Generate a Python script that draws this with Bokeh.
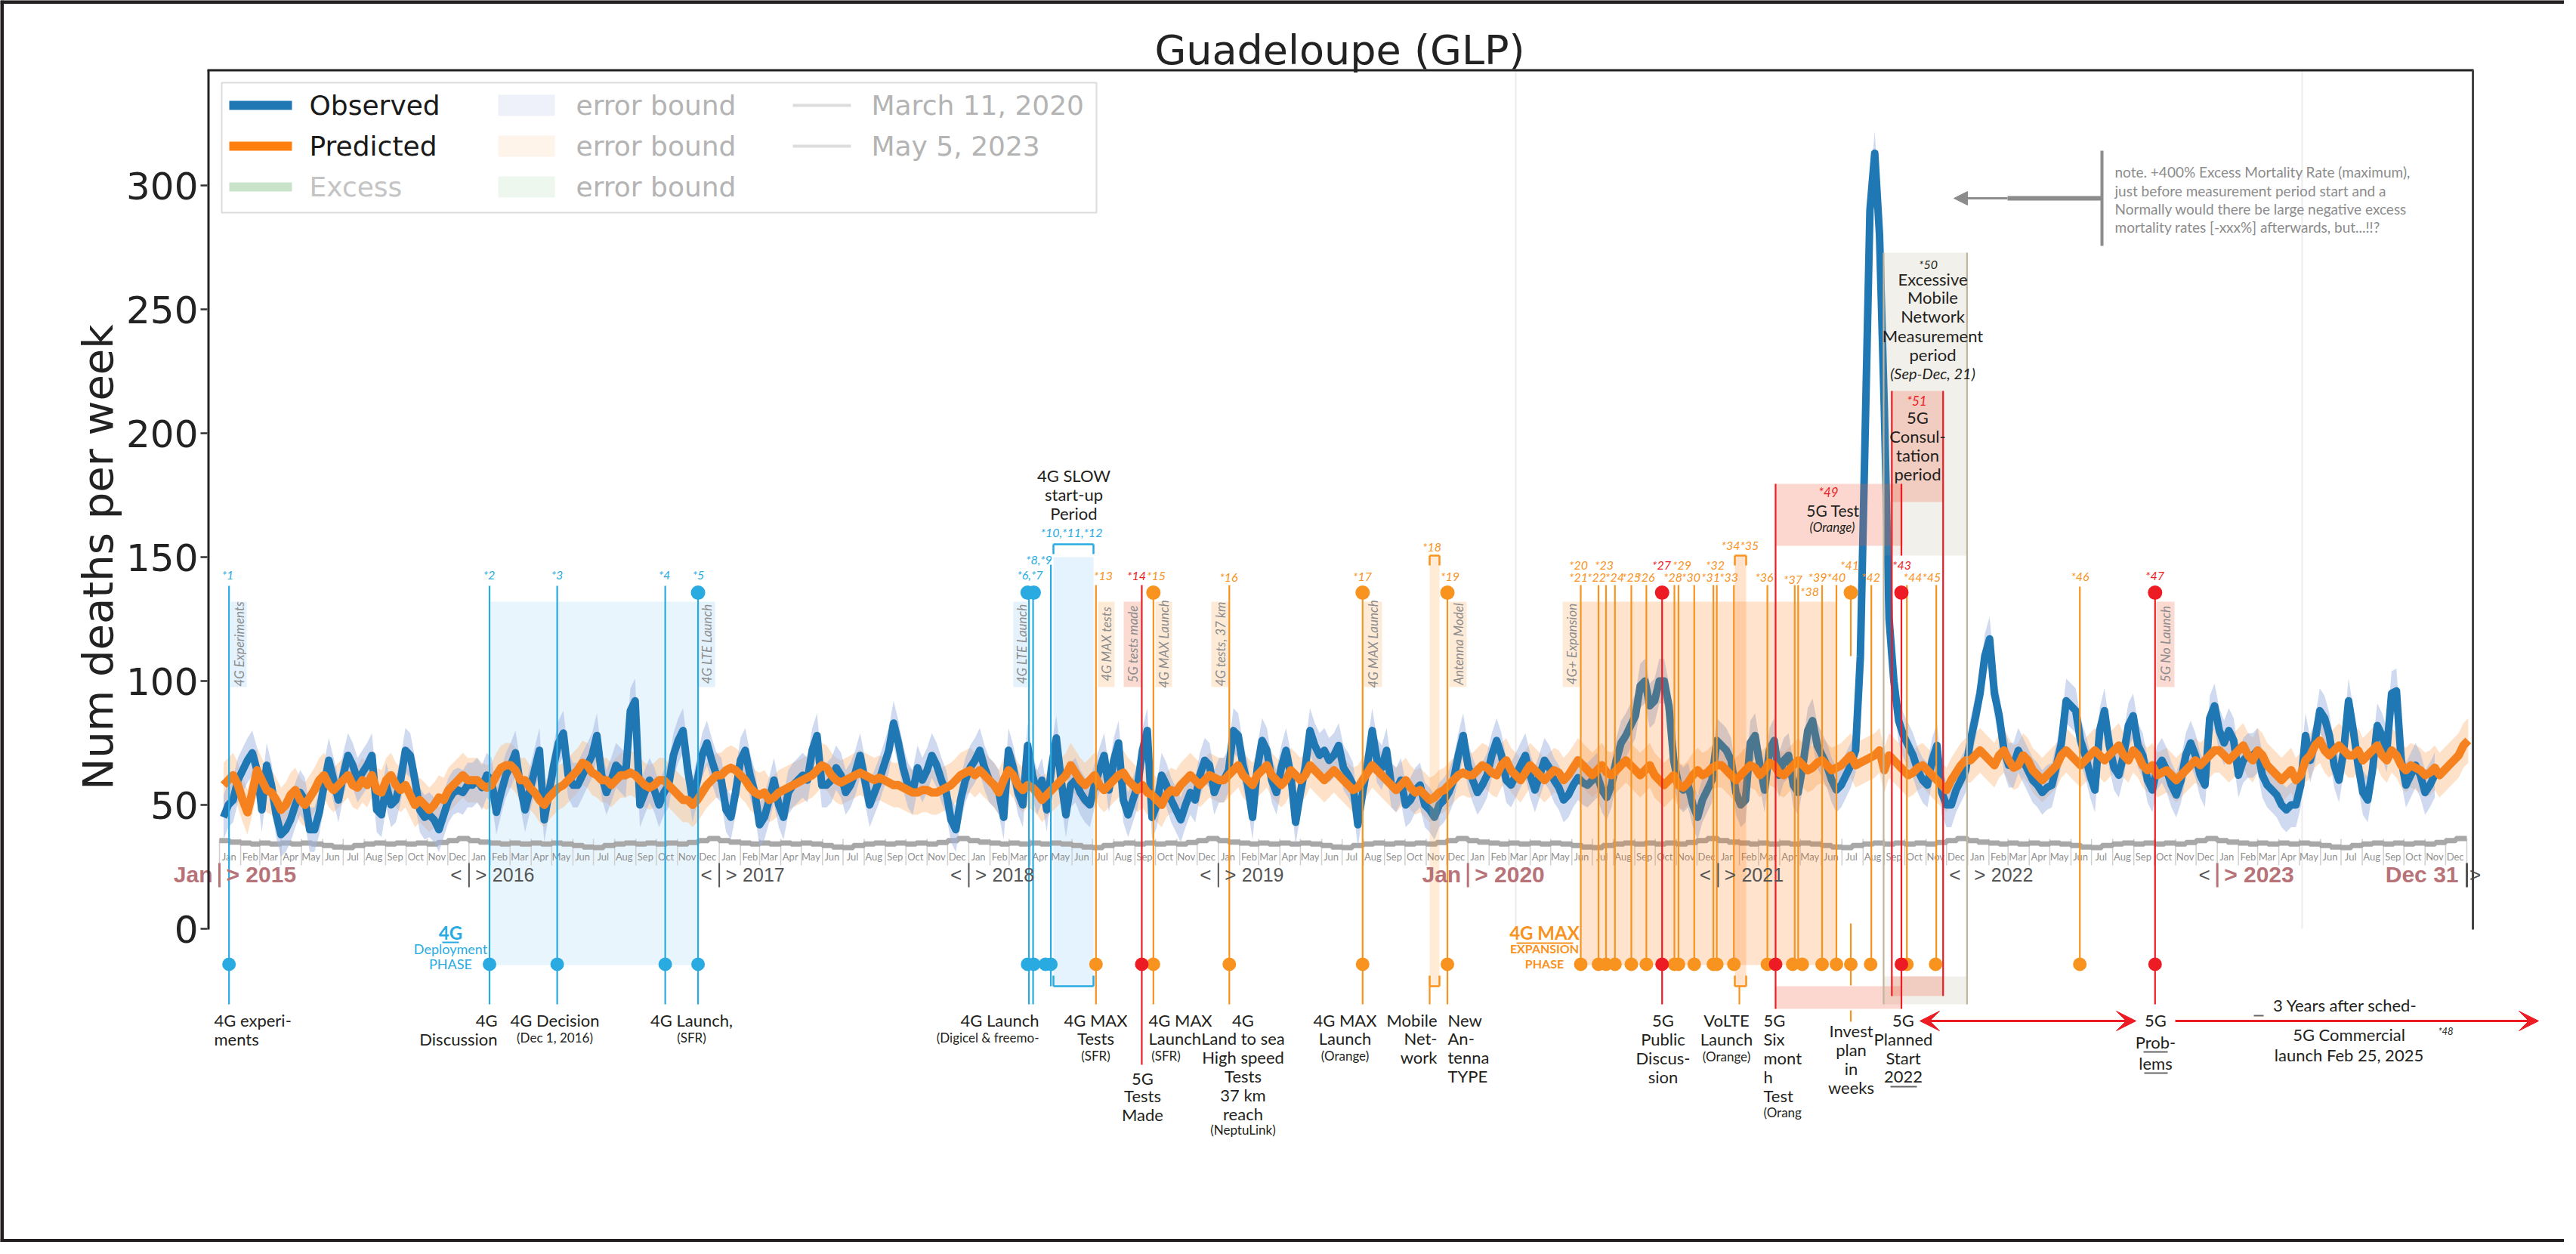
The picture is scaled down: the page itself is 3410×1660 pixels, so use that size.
import numpy as np
import pandas as pd
from math import pi
from bokeh.plotting import figure
from bokeh.models import Range1d, FixedTicker, Arrow, VeeHead, NormalHead
from bokeh.core.properties import value
from bokeh.embed import file_html
from bokeh.resources import INLINE

# ------------------------------------------------------------------ data
TITLE = "Guadeloupe (GLP)"
Y_LABEL = "Num deaths per week"
FIRST_WEEK = "2015-01-07"   # weekly points, one per week (mid-week)

obs_2015 = [45,50,52,60,64,68,71,64,48,66, 58,46,38,40,44,50,55,52,40,40, 47,58,68,60,52,62,70,66,60,63,
            66,70,48,46,58,50,52,60,72,70, 60,48,45,46,44,40,46,52,55,56, 55,58]
obs_2016 = [58,60,57,62,60,47,55,62,66,71, 58,48,56,64,72,44,55,66,75,79, 62,58,58,62,66,70,78,62,55,60,
            66,64,62,88,92,50,55,60,56,50, 55,58,70,76,80,64,52,60,70,75, 68,62]
obs_2017 = [60,48,45,55,68,72,62,55,42,45, 52,60,50,45,55,58,60,62,60,72, 78,58,58,60,65,62,55,58,63,70,
            60,50,55,60,66,72,83,75,65,58, 55,65,60,64,70,66,60,55,44,40, 52,60,65]
obs_2018 = [68,72,65,60,58,55,45,72,65,55, 50,74,62,55,60,48,65,77,60,46, 58,60,55,52,50,58,64,70,56,68,
            75,52,46,52,58,72,80,45,50,62, 58,52,48,44,50,55,52,62,68,66, 55,60]
obs_2019 = [60,64,80,78,66,58,45,65,76,72, 60,55,65,72,62,43,55,65,80,74, 70,72,68,70,74,65,62,58,42,55,
            66,80,68,65,72,58,56,60,50,52, 56,58,50,48,45,50,52,55,60,70, 78,66]
obs_2020 = [60,55,58,62,70,76,70,60,58,62, 66,70,62,56,62,68,65,60,57,52, 54,58,61,59,58,60,62,56,53,58,
            68,75,78,82,86,98,100,90,92,100, 100,90,68,58,56,58,50,45,52,56, 60,76]
obs_2021 = [74,72,68,55,50,52,75,78,66,56, 72,76,62,68,70,58,55,66,80,84, 74,70,66,60,56,58,62,66,72,110,
            200,290,313,280,210,125,100,84,78,74, 70,64,60,58,68,74,55,50,50,56, 60,64]
obs_2022 = [76,85,95,110,117,95,86,72,66,66, 72,68,64,60,58,55,57,58,66,75, 92,90,88,76,70,62,56,80,88,74,
            65,62,70,82,86,74,70,60,56,65, 68,64,58,54,60,70,75,70,62,58, 85,90]
obs_2023 = [80,75,80,76,62,68,70,70,72,62, 58,56,54,50,48,50,50,58,78,68, 76,88,85,78,66,60,72,92,80,66,
            55,52,64,82,78,72,95,96,68,58, 62,66,62,55,58,62]

pred_2015 = [58,60,62,58,52,47,55,64,60,56, 55,52,48,50,54,56,52,50,53,56, 60,62,58,56,58,60,62,58,57,60,
             58,62,56,55,60,62,58,56,58,54, 50,52,50,48,50,53,52,56,58,60, 62,60]
pred_2016 = [60,60,58,57,58,62,65,66,66,64, 60,60,57,55,52,50,53,55,57,58, 60,62,64,67,66,63,62,60,60,58,
             60,62,62,63,62,60,58,57,58,60, 60,58,56,54,52,52,50,52,55,58, 60,62]
pred_2017 = [62,64,65,64,62,60,57,55,54,55, 52,53,55,56,57,58,59,60,61,62, 64,66,65,62,60,59,60,61,62,63,
             62,61,60,61,60,59,58,58,57,56, 55,55,56,56,55,55,56,57,58,60, 62,63,64]
pred_2018 = [62,64,62,60,58,55,60,64,62,58, 56,58,57,55,52,54,56,58,60,62, 66,63,60,58,60,62,58,56,58,60,
             62,63,60,58,56,58,55,54,52,50, 54,56,55,58,60,62,60,58,60,62, 61,60]
pred_2019 = [60,62,64,66,62,60,58,62,64,66, 62,60,58,60,64,62,60,62,66,64, 62,60,62,64,62,60,58,56,57,60,
             63,66,64,62,60,58,56,58,60,57, 55,56,54,52,53,55,56,58,60,62, 63,62]
pred_2020 = [62,64,66,65,63,62,66,68,64,62, 60,63,66,64,62,60,62,64,63,60, 62,65,68,66,64,62,64,66,63,62,
             64,66,68,66,64,62,64,66,62,60, 58,60,62,58,57,59,62,64,62,63, 65,66]
pred_2021 = [66,64,62,60,62,64,66,65,62,64, 67,66,63,62,64,66,68,66,64,65, 67,68,66,64,65,66,68,70,66,67,
             68,69,70,72,64,70,68,66,64,62, 63,65,66,64,62,60,58,56,60,63, 66,68]
pred_2022 = [68,70,72,70,68,66,70,72,68,65, 66,70,68,64,62,60,62,64,66,70, 72,70,68,66,68,70,72,70,68,70,
             72,74,70,68,72,70,66,64,66,62, 63,64,62,60,62,64,66,68,66,68, 70,72]
pred_2023 = [72,70,68,70,72,74,70,68,72,70, 66,64,62,60,62,64,60,62,68,70, 74,76,72,70,72,74,72,70,70,72,
             68,70,72,74,70,68,72,70,66,64, 66,65,64,62,63,65,62,64,66,68, 70,74,76]

obs_band_half = 9.0      # half width of the observed error bound
pred_band_half = 9.0     # half width of the predicted error bound

y_ticks = [0, 50, 100, 150, 200, 250, 300]
month_names = ["Jan", "Feb", "Mar", "Apr", "May", "Jun", "Jul", "Aug", "Sep", "Oct", "Nov", "Dec"]
years = [2015, 2016, 2017, 2018, 2019, 2020, 2021, 2022, 2023]
# grey seasonal step line under the curves (half-month levels, one year)
baseline_profile = [35.6, 35.0, 34.6, 34.2, 34.6, 34.2, 34.6, 34.2, 34.6, 34.2, 33.6, 33.0,
                    32.8, 33.6, 34.2, 34.6, 34.2, 34.6, 34.2, 34.6, 34.2, 34.8, 35.6, 36.4]

legend_main = ["Observed", "Predicted", "Excess"]
legend_bound = ["error bound", "error bound", "error bound"]
legend_dates = ["March 11, 2020", "May 5, 2023"]
ref_dates = ["2020-03-11", "2023-05-05"]

# ------------------------------------------------------------ geometry
PX0, PXD = 298.0, 0.90508      # reference px of 2015-01-01, px per day
PY0, PYU = 1237.0, 3.28        # reference px of value 0, px per death
T0 = pd.Timestamp("2015-01-01")
DAY = 86400000.0


def xm(px):
    return (T0 + pd.Timedelta(days=(px - PX0) / PXD)).value / 1e6


def dm(d):
    return pd.Timestamp(d).value / 1e6


def yv(py):
    return (PY0 - py) / PYU


def dx(pxoff):
    return pxoff / PXD * DAY


BLUE, ORANGE = "#1f77b4", "#ff7f0e"
EB, EO, ER = "#29abe2", "#f7931e", "#ed1c24"
TAN = "#c2b59b"
TXT = "#231f20"
GTXT = "#8c8c8c"
PINK = "#b87379"

p = figure(width=3394, height=1644, output_backend="svg", toolbar_location=None, tools="",
           x_range=Range1d(xm(8), xm(3402)), y_range=Range1d(yv(1652), yv(8)),
           x_axis_location=None, min_border_left=0, min_border_right=0,
           min_border_top=0, min_border_bottom=0)
p.grid.visible = False
p.outline_line_color = None
p.background_fill_color = "white"
p.border_fill_color = "white"

ax = p.yaxis[0]
ax.fixed_location = xm(282)
ax.ticker = FixedTicker(ticks=y_ticks)
ax.axis_line_color = None
ax.major_tick_out = 9
ax.major_tick_in = 0
ax.major_tick_line_width = 2.5
ax.major_tick_line_color = "#333333"
ax.minor_tick_line_color = None
ax.major_label_text_font = "DejaVu Sans"
ax.major_label_text_font_size = "50px"
ax.major_label_text_color = "#222222"
ax.major_label_standoff = 3


def texts(items, size, color=TXT, align="center", style="normal", font="Lato", angle=0.0):
    xs = [xm(i[0]) for i in items]
    ys = [yv(i[1]) for i in items]
    ts = [i[2] for i in items]
    p.text(x=xs, y=ys, text=ts, text_font=value(font), text_font_size=value(size),
           text_color=color, text_align=align, text_baseline="middle",
           text_font_style=style, angle=angle)


def box(x0, x1, y0, y1, color, alpha=1.0):
    p.quad(left=[xm(x0)], right=[xm(x1)], top=[yv(y0)], bottom=[yv(y1)], fill_color=color,
           fill_alpha=alpha, line_color=None)


def seg(x0, y0, x1, y1, color, width=2.0):
    p.segment(x0=[xm(x0)], y0=[yv(y0)], x1=[xm(x1)], y1=[yv(y1)], line_color=color, line_width=width)


# title and y-axis label
texts([(1781, 74, TITLE)], "54px", "#222222", "center", font="DejaVu Sans")
texts([(137, 745, Y_LABEL)], "56px", "#222222", "center", font="DejaVu Sans", angle=pi / 2)

# ------------------------------------------------ background phase areas
box(657, 932, 804, 1285, "#e8f5fd")          # 4G deployment phase
box(1402, 1455, 745, 1313, "#e4f3fd")        # 4G slow start-up period

rot_boxes = [(313, 334, "4G Experiments", "#e3f2fc"), (932, 954, "4G LTE Launch", "#e3f2fc"),
             (1349, 1371, "4G LTE Launch", "#e3f2fc"), (1461, 1483, "4G MAX tests", "#fdebd8"),
             (1495, 1518, "5G tests made", "#fbdad2"), (1537, 1559, "4G MAX Launch", "#fdebd8"),
             (1611, 1634, "4G tests, 37 km", "#fdebd8"), (1813, 1837, "4G MAX Launch", "#fdebd8"),
             (1926, 1949, "Antenna Model", "#fdebd8"), (2076, 2099, "4G+ Expansion", "#fdebd8"),
             (2862, 2886, "5G No Launch", "#fbdad2")]
for b in rot_boxes:
    box(b[0], b[1], 804, 917, b[3])
texts([((b[0] + b[1]) / 2.0, 860, b[2]) for b in rot_boxes], "17px", GTXT, "center", "italic",
      angle=pi / 2)

# faint reference date lines (legend: March 11, 2020 / May 5, 2023)
p.segment(x0=[dm(d) for d in ref_dates], y0=[0, 0], x1=[dm(d) for d in ref_dates],
          y1=[yv(100), yv(100)], line_color="#ececec", line_width=2)

# ------------------------------------------------ month strip
mon_x, mon_t = [], []
for yr in years:
    for m in range(12):
        mon_x.append(dm(f"{yr}-{m + 1:02d}-15"))
        mon_t.append(month_names[m])
p.text(x=mon_x, y=[yv(1141)] * len(mon_x), text=mon_t, text_font=value("Lato"),
       text_font_size=value("13px"), text_color="#8f8f8f", text_align="center", text_baseline="middle")
sep_x = [dm(f"{yr}-{m + 1:02d}-01") for yr in years for m in range(12)] + [dm("2024-01-01")]
p.segment(x0=sep_x, y0=[yv(1118)] * len(sep_x), x1=sep_x, y1=[yv(1153)] * len(sep_x),
          line_color="#cfcfcf", line_width=1.5)
step_x = []
for yr in years:
    for m in range(12):
        step_x += [dm(f"{yr}-{m + 1:02d}-01"), dm(f"{yr}-{m + 1:02d}-16")]
step_x.append(dm("2024-01-01"))
step_y = list(np.tile(baseline_profile, len(years))) + [baseline_profile[-1]]
p.step(x=step_x, y=step_y, mode="after", line_color="#a8a8a8", line_width=7)

# ------------------------------------------------ series
observed = obs_2015 + obs_2016 + obs_2017 + obs_2018 + obs_2019 + obs_2020 + obs_2021 + obs_2022 + obs_2023
predicted = (pred_2015 + pred_2016 + pred_2017 + pred_2018 + pred_2019 + pred_2020 + pred_2021
             + pred_2022 + pred_2023)
wk = pd.date_range(FIRST_WEEK, periods=len(predicted), freq="7D")
xw = (wk.values.astype("datetime64[ns]").astype(np.int64) / 1e6)
xo = xw[:len(observed)]
obs = np.array(observed, dtype=float)
pred = np.array(predicted, dtype=float)
p.varea(x=xw, y1=pred - pred_band_half, y2=pred + pred_band_half, fill_color="#fbbd85", fill_alpha=0.45)
p.varea(x=xo, y1=obs - obs_band_half, y2=obs + obs_band_half, fill_color="#9fb3df", fill_alpha=0.5)
p.line(x=xo, y=obs, line_color=BLUE, line_width=10, line_join="round")
p.line(x=xw, y=pred, line_color="#f5821f", line_width=11, line_join="round")

# ------------------------------------------------ overlay periods
box(2100, 2438, 804, 1285, "#ff7500", 0.2)          # 4G MAX expansion phase
box(1900, 1913, 743, 1313, "#ff9a30", 0.2)          # *18
box(2304, 2319, 743, 1313, "#ff7500", 0.2)          # *34 *35
box(2501, 2612, 342, 743, "#a89878", 0.15)          # *50 measurement period
box(2501, 2612, 1300, 1337, "#a89878", 0.15)
box(2358, 2526, 648, 730, "#f06040", 0.25)          # *49 5G test
box(2358, 2523, 1313, 1343, "#f06040", 0.25)
box(2512, 2580, 525, 672, "#f06040", 0.25)          # *51 5G consultation
box(2512, 2580, 1300, 1326, "#f06040", 0.25)

# ------------------------------------------------ event lines
event_lines = [
    ("2015-01-15", 783, 1337, EB), ("2016-01-31", 783, 1337, EB), ("2016-05-09", 783, 1337, EB),
    ("2016-10-14", 783, 1337, EB), ("2016-12-01", 793, 1337, EB), ("2018-03-30", 793, 1337, EB),
    ("2018-04-05", 793, 1337, EB), ("2018-05-01", 755, 1313, EB),
    ("2018-07-06", 782, 1337, EO), ("2018-09-11", 782, 1417, ER), ("2018-09-28", 793, 1337, EO),
    ("2019-01-17", 782, 1337, EO), ("2019-07-31", 793, 1337, EO), ("2019-11-06", 1313, 1337, EO),
    ("2019-12-02", 793, 1337, EO),
    ("2020-06-14", 782, 1285, EO), ("2020-07-10", 782, 1285, EO), ("2020-07-21", 782, 1285, EO),
    ("2020-08-03", 782, 1285, EO), ("2020-08-27", 782, 1285, EO), ("2020-09-18", 782, 1285, EO),
    ("2020-10-29", 782, 1285, EO), ("2020-11-04", 782, 1285, EO), ("2020-11-27", 782, 1285, EO),
    ("2020-12-25", 782, 1285, EO), ("2020-12-30", 782, 1285, EO), ("2021-01-24", 782, 1285, EO),
    ("2021-03-14", 782, 1285, EO), ("2021-04-23", 782, 1285, EO), ("2021-04-28", 782, 1285, EO),
    ("2021-06-02", 782, 1285, EO), ("2021-06-23", 782, 1285, EO), ("2021-08-13", 782, 1285, EO),
    ("2021-10-04", 782, 1285, EO), ("2021-11-16", 782, 1285, EO), ("2022-06-14", 784, 1285, EO),
    ("2021-07-14", 782, 876, EO), ("2021-07-14", 1230, 1312, EO), ("2021-07-14", 1345, 1360, EO),
    ("2021-02-01", 1313, 1337, EO),
    ("2020-10-11", 793, 1337, ER), ("2021-03-26", 648, 1343, ER), ("2021-09-26", 793, 1343, ER),
    ("2021-09-26", 648, 743, ER), ("2021-09-12", 525, 1326, ER), ("2021-11-26", 525, 1326, ER),
    ("2022-10-02", 793, 1337, ER),
    ("2021-08-31", 342, 1337, TAN), ("2021-12-31", 342, 1337, TAN),
]
p.segment(x0=[dm(e[0]) for e in event_lines], y0=[yv(e[1]) for e in event_lines],
          x1=[dm(e[0]) for e in event_lines], y1=[yv(e[2]) for e in event_lines],
          line_color=[e[3] for e in event_lines], line_width=2.2)

for (a, b, col) in [(1402, 1455, EB), (1900, 1913, EO), (2304, 2319, EO)]:
    top = 728 if col == EB else 743
    seg(a, top, b, top, col, 2.5)
    seg(a, top, a, top + 13, col, 2.5)
    seg(b, top, b, top + 13, col, 2.5)
    seg(a, 1313, b, 1313, col, 2.5)
    seg(a, 1299, a, 1313, col, 2.5)
    seg(b, 1299, b, 1313, col, 2.5)

top_dots = [("2016-12-01", EB), ("2018-03-28", EB), ("2018-04-06", EB), ("2018-09-28", EO),
            ("2019-07-31", EO), ("2019-12-02", EO), ("2021-07-14", EO), ("2020-10-11", ER),
            ("2021-09-26", ER), ("2022-10-02", ER)]
bottom_dots = [("2015-01-15", EB), ("2016-01-31", EB), ("2016-05-09", EB), ("2016-10-14", EB),
               ("2016-12-01", EB), ("2018-03-28", EB), ("2018-04-06", EB), ("2018-04-23", EB),
               ("2018-05-01", EB),
               ("2018-07-06", EO), ("2018-09-28", EO), ("2019-01-17", EO), ("2019-07-31", EO),
               ("2019-12-02", EO), ("2020-06-14", EO), ("2020-07-10", EO), ("2020-07-21", EO),
               ("2020-08-03", EO), ("2020-08-27", EO), ("2020-09-18", EO), ("2020-10-29", EO),
               ("2020-11-04", EO), ("2020-11-27", EO), ("2020-12-25", EO), ("2020-12-30", EO),
               ("2021-01-24", EO), ("2021-03-14", EO), ("2021-04-20", EO), ("2021-05-04", EO),
               ("2021-06-02", EO), ("2021-06-23", EO), ("2021-07-14", EO), ("2021-08-12", EO),
               ("2021-10-04", EO), ("2021-11-15", EO), ("2022-06-14", EO),
               ("2018-09-11", ER), ("2020-10-11", ER), ("2021-03-26", ER), ("2021-09-26", ER),
               ("2022-10-02", ER)]
p.scatter(x=[dm(d[0]) for d in top_dots], y=[yv(792)] * len(top_dots), size=19, marker="circle",
          fill_color=[d[1] for d in top_dots], line_color=None)
p.scatter(x=[dm(d[0]) for d in bottom_dots], y=[yv(1284)] * len(bottom_dots), size=18, marker="circle",
          fill_color=[d[1] for d in bottom_dots], line_color=None)

stars_b = [(309, 768, "*1"), (655, 768, "*2"), (745, 768, "*3"), (887, 768, "*4"), (932, 768, "*5"),
           (1371, 768, "*6,*7"), (1383, 748, "*8,*9"), (1426, 712, "*10,*11,*12")]
stars_o = [(1468, 769, "*13"), (1538, 769, "*15"), (1634, 771, "*16"), (1811, 770, "*17"),
           (1903, 731, "*18"), (1927, 770, "*19"), (2097, 755, "*20"), (2097, 771, "*21"),
           (2121, 771, "*22"), (2131, 755, "*23"), (2145, 771, "*24"), (2167, 771, "*25"),
           (2186, 771, "*26"), (2222, 771, "*28"), (2234, 755, "*29"), (2246, 771, "*30"),
           (2272, 771, "*31"), (2278, 755, "*32"), (2296, 771, "*33"), (2311, 729, "*34*35"),
           (2343, 771, "*36"), (2381, 774, "*37"), (2403, 790, "*38"), (2426, 771, "*39*40"),
           (2456, 755, "*41"), (2484, 771, "*42"), (2552, 771, "*44*45"), (2761, 770, "*46")]
stars_r = [(1512, 769, "*14"), (2207, 755, "*27"), (2525, 755, "*43"), (2860, 769, "*47")]
texts(stars_b, "16px", EB, "center", "italic")
texts(stars_o, "16px", EO, "center", "italic")
texts(stars_r, "16px", ER, "center", "italic")

# ------------------------------------------------ event descriptions (below)
lab_c = [(742, 1358, "4G Decision"), (923, 1358, "4G Launch,"), (1458, 1358, "4G MAX"), (1458, 1382, "Tests"),
         (1520, 1435, "5G"), (1520, 1458, "Tests"), (1520, 1483, "Made"), (1653, 1358, "4G"),
         (1653, 1382, "Land to sea"), (1653, 1407, "High speed"), (1653, 1432, "Tests"),
         (1653, 1457, "37 km"), (1653, 1482, "reach"), (1788, 1358, "4G MAX"), (1788, 1382, "Launch"),
         (2209, 1358, "5G"), (2209, 1383, "Public"), (2209, 1408, "Discus-"), (2209, 1433, "sion"),
         (2293, 1358, "VoLTE"), (2293, 1383, "Launch"), (2458, 1372, "Invest"), (2458, 1397, "plan"),
         (2458, 1422, "in"), (2458, 1447, "weeks"), (2527, 1358, "5G"), (2527, 1383, "Planned"),
         (2527, 1408, "Start"), (2527, 1433, "2022"), (2861, 1358, "5G"), (2861, 1387, "Prob-"),
         (2861, 1415, "lems"), (3112, 1338, "3 Years after sched-"), (3117, 1377, "5G Commercial"),
         (3117, 1404, "launch Feb 25, 2025")]
lab_l = [(291, 1358, "4G experi-"), (291, 1383, "ments"), (1528, 1358, "4G MAX"), (1528, 1382, "Launch"),
         (1924, 1358, "New"), (1924, 1382, "An-"), (1924, 1407, "tenna"), (1924, 1432, "TYPE"),
         (2342, 1358, "5G"), (2342, 1383, "Six"), (2342, 1408, "mont"), (2342, 1433, "h"),
         (2342, 1458, "Test")]
lab_r = [(666, 1358, "4G"), (666, 1383, "Discussion"), (1383, 1358, "4G Launch"), (1910, 1358, "Mobile"),
         (1910, 1382, "Net-"), (1910, 1407, "work")]
small_c = [(742, 1381, "(Dec 1, 2016)"), (923, 1381, "(SFR)"), (1458, 1405, "(SFR)"), (1551, 1405, "(SFR)"),
           (1653, 1503, "(NeptuLink)"), (1788, 1405, "(Orange)"), (2293, 1406, "(Orange)")]
texts(lab_c, "22px", TXT, "center")
texts(lab_l, "22px", TXT, "left")
texts(lab_r, "22px", TXT, "right")
texts(small_c, "17px", TXT, "center")
texts([(2342, 1480, "(Orang")], "17px", TXT, "left")
texts([(1383, 1381, "(Digicel & freemo-")], "17px", TXT, "right")
texts([(3245, 1372, "*48")], "13px", TXT, "center", "italic")
for (a, b, yy) in [(2510, 2545, 1446), (2845, 2877, 1400), (2846, 2877, 1428), (2991, 3004, 1352)]:
    seg(a, yy, b, yy, "#666666", 2)

texts([(604, 1242, "4G")], "24px", EB, "center", "bold")
texts([(604, 1263, "Deployment"), (604, 1283, "PHASE")], "18px", EB, "center")
seg(593, 1255, 615, 1255, EB, 2)
texts([(2052, 1242, "4G MAX")], "24px", EO, "center", "bold")
texts([(2052, 1263, "EXPANSION"), (2052, 1283, "PHASE")], "16px", EO, "center", "bold")
seg(2015, 1256, 2090, 1256, EO, 2)

top_c = [(1429, 637, "4G SLOW"), (1429, 662, "start-up"), (1429, 687, "Period"),
         (2566, 377, "Excessive"), (2566, 401, "Mobile"), (2566, 426, "Network"),
         (2566, 452, "Measurement"), (2566, 477, "period"), (2546, 560, "5G"), (2546, 585, "Consul-"),
         (2546, 610, "tation"), (2546, 635, "period")]
texts(top_c, "22px", TXT, "center")
texts([(2434, 683, "5G Test")], "21px", TXT, "center")
texts([(2566, 501, "(Sep-Dec, 21)")], "20px", TXT, "center", "italic")
texts([(2433, 705, "(Orange)")], "17px", TXT, "center", "italic")
texts([(2560, 357, "*50")], "16px", TXT, "center", "italic")
texts([(2545, 538, "*51"), (2428, 659, "*49")], "17px", ER, "center", "italic")

note_lines = [(2807, 235, "note. +400% Excess Mortality Rate (maximum),"),
              (2807, 260, "just before measurement period start and a"),
              (2807, 284, "Normally would there be large negative excess"),
              (2807, 308, "mortality rates [-xxx%] afterwards, but...!!?")]
texts(note_lines, "19px", GTXT, "left")
seg(2790, 207, 2790, 333, GTXT, 4)
seg(2665, 270, 2790, 270, GTXT, 6)
p.add_layout(Arrow(end=NormalHead(size=18, fill_color=GTXT, line_color=GTXT),
                   x_start=xm(2665), y_start=yv(270), x_end=xm(2594), y_end=yv(270),
                   line_color=GTXT, line_width=3))

p.add_layout(Arrow(start=VeeHead(size=26, fill_color=ER, line_color=ER),
                   end=VeeHead(size=26, fill_color=ER, line_color=ER),
                   x_start=xm(2549), y_start=yv(1359), x_end=xm(2835), y_end=yv(1359),
                   line_color=ER, line_width=3))
p.add_layout(Arrow(end=VeeHead(size=26, fill_color=ER, line_color=ER),
                   x_start=xm(2887), y_start=yv(1359), x_end=xm(3368), y_end=yv(1359),
                   line_color=ER, line_width=3))

# ------------------------------------------------ year strip
YR = 1165
gray_year, gray_sym = [], []
pink_bits, bars_gray, bars_pink = [], [], []
for yr in years[1:]:
    b = dm(f"{yr}-01-01")
    if yr in (2016, 2017, 2018, 2019, 2021, 2022):
        gray_sym.append((b - dx(17), "<"))
        gray_sym.append((b + dx(16), ">"))
        gray_year.append((b + dx(31), str(yr)))
        if yr != 2022:
            bars_gray.append(b)
    elif yr == 2020:
        pink_bits.append((b - dx(9), "Jan", "right"))
        pink_bits.append((b + dx(9), "> 2020", "left"))
        bars_pink.append(b)
    elif yr == 2023:
        gray_sym.append((b - dx(17), "<"))
        pink_bits.append((b + dx(9), "> 2023", "left"))
        bars_pink.append(b)
b15 = dm("2015-01-01")
pink_bits.append((b15 + dx(9), "> 2015", "left"))
pink_bits.append((b15 - dx(9), "Jan", "right"))
bars_pink.append(b15)
bend = dm("2024-01-01")
pink_bits.append((bend - dx(11), "Dec 31", "right"))
gray_sym.append((bend + dx(11), ">"))
p.text(x=[g[0] for g in gray_sym], y=[yv(YR)] * len(gray_sym), text=[g[1] for g in gray_sym],
       text_font=value("Liberation Sans"), text_font_size=value("26px"), text_color="#555555",
       text_align="center", text_baseline="middle")
p.text(x=[g[0] for g in gray_year], y=[yv(YR)] * len(gray_year), text=[g[1] for g in gray_year],
       text_font=value("Liberation Sans"), text_font_size=value("25px"), text_color="#555555",
       text_align="left", text_baseline="middle")
for al in ("left", "right"):
    sel = [q for q in pink_bits if q[2] == al]
    p.text(x=[q[0] for q in sel], y=[yv(YR)] * len(sel), text=[q[1] for q in sel],
           text_font=value("Liberation Sans"), text_font_size=value("30px"), text_color=PINK,
           text_font_style="bold", text_align=al, text_baseline="middle")
p.segment(x0=bars_gray, y0=[yv(1150)] * len(bars_gray), x1=bars_gray, y1=[yv(1182)] * len(bars_gray),
          line_color="#555555", line_width=2)
p.segment(x0=bars_pink, y0=[yv(1150)] * len(bars_pink), x1=bars_pink, y1=[yv(1182)] * len(bars_pink),
          line_color=PINK, line_width=3)
p.segment(x0=[bend], y0=[yv(1150)], x1=[bend], y1=[yv(1182)], line_color="#555555", line_width=3)

# ------------------------------------------------ legend (top-left, inside)
box(301, 1459, 117, 289, "white")
p.quad(left=[xm(301)], right=[xm(1459)], top=[yv(117)], bottom=[yv(289)], fill_color=None,
       line_color="#dcdcdc", line_width=2)
rows = [147, 201, 255]
p.segment(x0=[xm(311)] * 3, y0=[yv(r) for r in rows], x1=[xm(394)] * 3, y1=[yv(r) for r in rows],
          line_color=[BLUE, ORANGE, "#c9e3c9"], line_width=12)
p.quad(left=[xm(667)] * 3, right=[xm(742)] * 3, top=[yv(r - 14) for r in rows],
       bottom=[yv(r + 14) for r in rows], fill_color=["#eef1f9", "#fef4ea", "#eef7ee"], line_color=None)
p.segment(x0=[xm(1057)] * 2, y0=[yv(r) for r in rows[:2]], x1=[xm(1134)] * 2, y1=[yv(r) for r in rows[:2]],
          line_color="#dddddd", line_width=4)
p.text(x=[xm(417)] * 3, y=[yv(r) for r in rows], text=legend_main, text_font=value("DejaVu Sans"),
       text_font_size=value("36px"), text_color=["#1a1a1a", "#1a1a1a", "#c4c4c4"],
       text_align="left", text_baseline="middle")
p.text(x=[xm(770)] * 3, y=[yv(r) for r in rows], text=legend_bound, text_font=value("DejaVu Sans"),
       text_font_size=value("36px"), text_color="#b4b4b4", text_align="left", text_baseline="middle")
p.text(x=[xm(1161)] * 2, y=[yv(r) for r in rows[:2]], text=legend_dates, text_font=value("DejaVu Sans"),
       text_font_size=value("36px"), text_color="#b4b4b4", text_align="left", text_baseline="middle")

# ------------------------------------------------ spines and outer frame
seg(283.5, 100.5, 283.5, 1238, "#222222", 3)
seg(282, 100.5, 3282, 100.5, "#222222", 3)
seg(3281, 100.5, 3281, 1238, "#444444", 3)
seg(8, 10, 3402, 10, "#231f20", 5)
seg(10, 8, 10, 1652, "#231f20", 5)
seg(8, 1650, 3402, 1650, "#231f20", 5)

open("out.html", "w").write(file_html(p, INLINE))
